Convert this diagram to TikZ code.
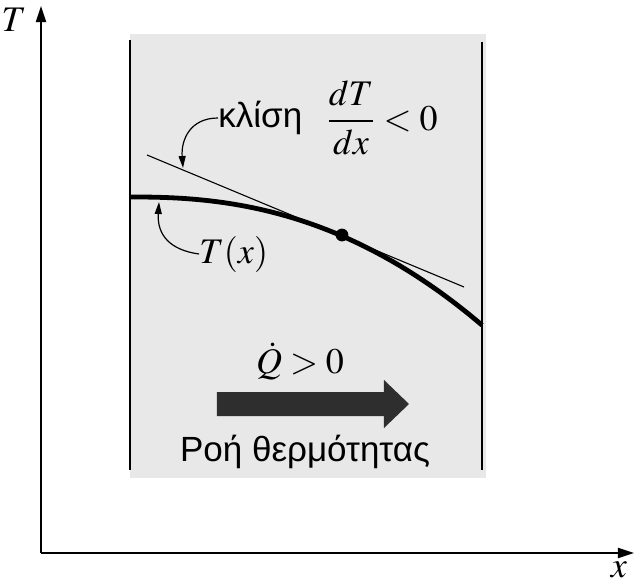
\documentclass[tikz,border=0pt]{standalone}
\usepackage{mathptmx}
\usepackage[no-math]{fontspec}
\newfontfamily\greekfont{Liberation Sans}
\usetikzlibrary{arrows.meta}
\begin{document}
\begin{tikzpicture}[x=0.5pt,y=-0.5pt,
  wall/.style={line width=0.9pt,draw=black},
  axis/.style={line width=0.9pt,-{Triangle[length=8pt,width=5pt]}},
  callout/.style={line width=0.6pt,-{Triangle[length=6pt,width=3.5pt]}},
  greektxt/.style={font=\greekfont\fontsize{17.5}{20}\selectfont,inner sep=0pt},
  mathtxt/.style={font=\fontsize{18}{20}\selectfont,inner sep=0pt}]
\useasboundingbox (0,0) rectangle (634,584);
% shaded slab
\fill[black!9] (130,34) rectangle (486,478);
% walls
\draw[wall] (130,40) coordinate (lwt) -- (130,470) coordinate (lwb);
\draw[wall] (482,42) coordinate (rwt) -- (482,470) coordinate (rwb);
% axes
\coordinate (O) at (41,553);
\coordinate (ytip) at (41,6);
\coordinate (xtip) at (634,553);
\draw[axis] (O) -- (ytip);
\draw[axis] (O) -- (xtip);
\node[mathtxt] (Tlab) at (14,20) {$T$};
\node[mathtxt] (xlab) at (619,570) {$x$};
% tangent line
\coordinate (tanA) at (147,155);
\coordinate (tanB) at (464,287);
\draw[line width=0.55pt] (tanA) -- (tanB);
% temperature profile
\draw[line width=2.4pt] (131,197) -- plot[domain=134:482,samples=60] (\x,{197+39*pow((\x-133)/209,2.32)});
\coordinate (pt) at (342,235);
\fill (pt) circle (3.2pt);
% slope label
\node[greektxt,anchor=west] (slope) at (218,118) {κλίση};
\node[mathtxt,anchor=west] (frac) at (326,118) {$\displaystyle\frac{dT}{dx} < 0$};
\coordinate (slopetip) at (183,168);
\draw[callout] (slope.west) .. controls (190,118) and (181,140) .. (slopetip);
% T(x) label
\node[mathtxt,anchor=west] (Tx) at (199,254) {$T(x)$};
\coordinate (Txtip) at (159,202);
\draw[callout] (Tx.west) .. controls (170,250) and (157,235) .. (Txtip);
% heat flow
\node[mathtxt] (Q) at (300,361) {$\dot{Q} > 0$};
\fill[black!82] (217,392) -- (384,392) -- (384,380) -- (409,404) -- (384,428) -- (384,416) -- (217,416) -- cycle;
\node[greektxt] (flow) at (305,452) {Ροή θερμότητας};
\end{tikzpicture}
\end{document}
